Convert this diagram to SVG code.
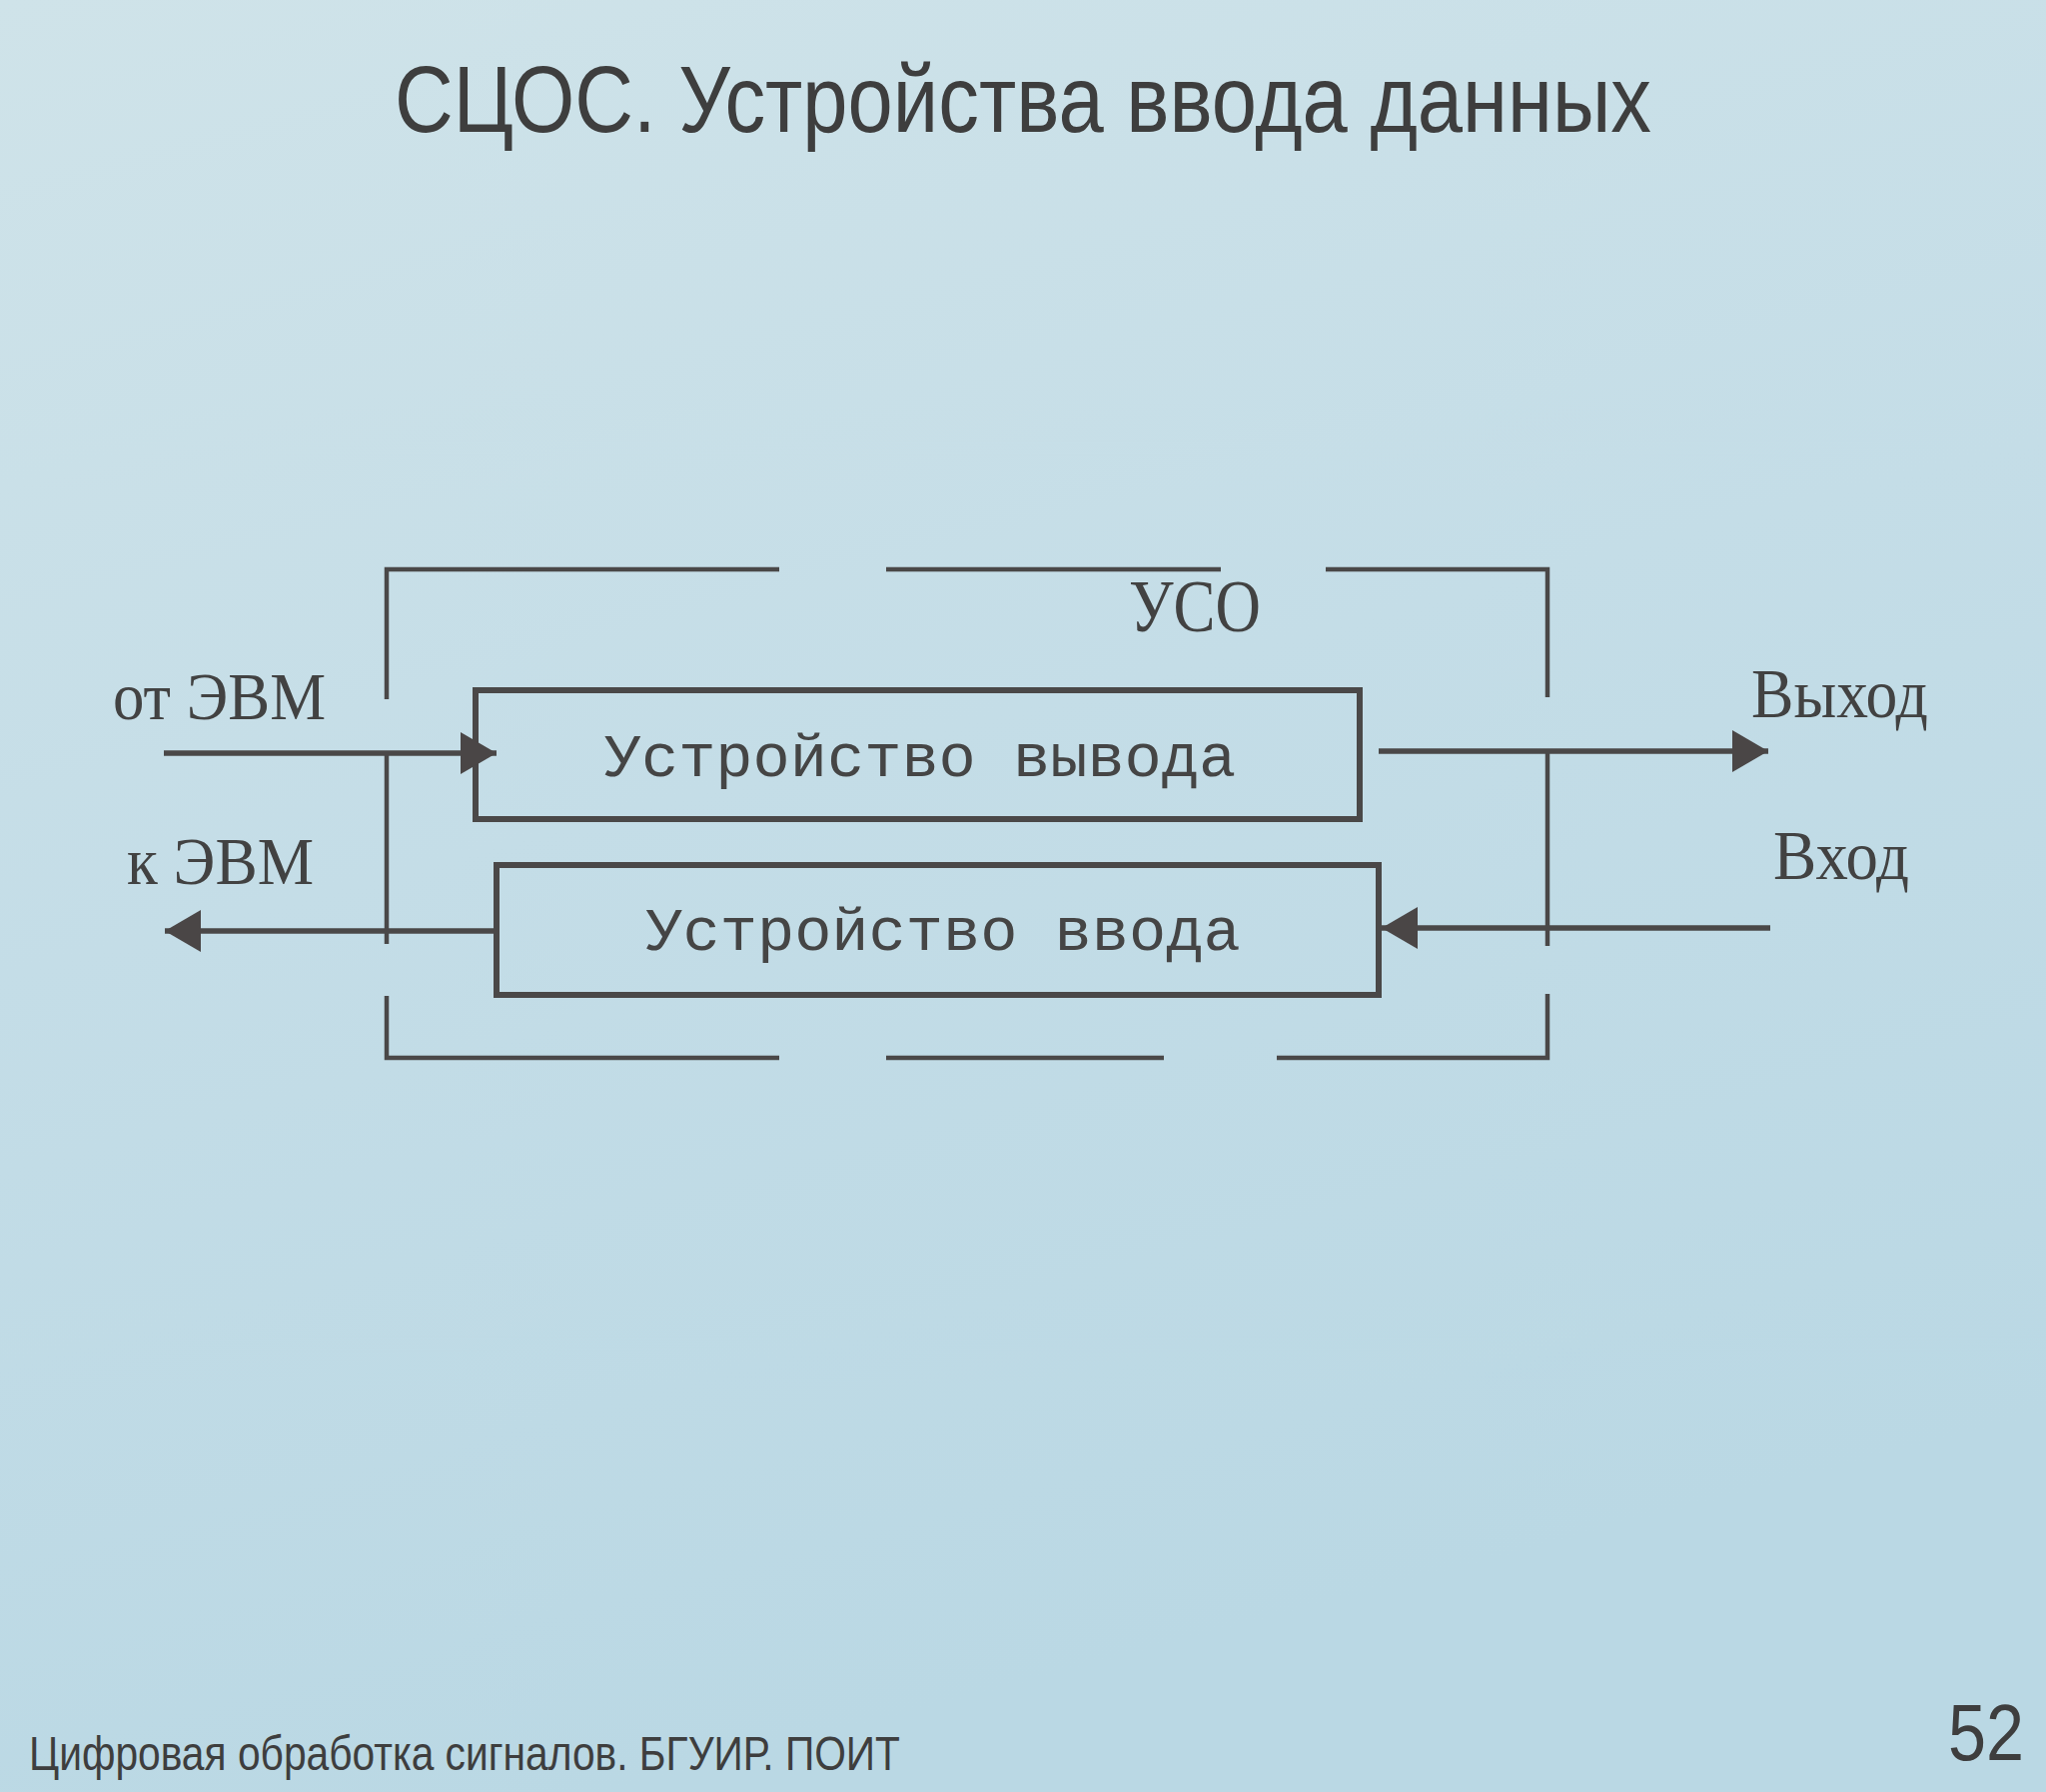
<svg xmlns="http://www.w3.org/2000/svg" width="2048" height="1794" viewBox="0 0 2048 1794">
  <defs>
    <linearGradient id="bg" x1="0" y1="0" x2="0.3" y2="1">
      <stop offset="0" stop-color="#cfe3e9"/>
      <stop offset="0.5" stop-color="#c4dde7"/>
      <stop offset="1" stop-color="#bad8e4"/>
    </linearGradient>
    <marker id="arrow" markerUnits="userSpaceOnUse" markerWidth="38" markerHeight="42" refX="36" refY="21" orient="auto">
      <path d="M0,0 L36,21 L0,42 Z" fill="#4a4646"/>
    </marker>
    <style>
      .line { fill: none; stroke: #4a4848; stroke-width: 4.5; stroke-linecap: butt; }
      .box { fill: none; stroke: #4a4848; stroke-width: 6; }
      .conn { fill: none; stroke: #4a4848; stroke-width: 5.5; marker-end: url(#arrow); }
      .mono { font-family: "Liberation Mono", "DejaVu Sans Mono", monospace; font-size: 62px; fill: #454545; }
      .serif { font-family: "Liberation Serif", "DejaVu Serif", serif; fill: #424242; }
      .sans { font-family: "Liberation Sans", Arial, sans-serif; fill: #3e3e3e; }
    </style>
  </defs>

  <rect x="0" y="0" width="2048" height="1794" fill="url(#bg)"/>

  <!-- slide title -->
  <text class="sans" x="395" y="132" font-size="94" textLength="1258" lengthAdjust="spacingAndGlyphs">СЦОС. Устройства ввода данных</text>

  <!-- УСО frame: broken outline around both devices -->
  <g id="uso">
    <path class="line" d="M780,570 H387 V700"/>
    <path class="line" d="M887,570 H1222"/>
    <path class="line" d="M1327,570 H1549 V698"/>
    <path class="line" d="M387,754 V945"/>
    <path class="line" d="M1549,752 V947"/>
    <path class="line" d="M387,997 V1059 H780"/>
    <path class="line" d="M887,1059 H1165"/>
    <path class="line" d="M1278,1059 H1549 V995"/>
    <text class="serif" x="1130" y="632" font-size="74" textLength="132" lengthAdjust="spacingAndGlyphs">УСО</text>
  </g>

  <!-- output device -->
  <g id="output-device">
    <rect class="box" x="476" y="691" width="885" height="129"/>
    <text class="mono" x="921" y="777" text-anchor="middle">Устройство вывода</text>
  </g>

  <!-- input device -->
  <g id="input-device">
    <rect class="box" x="497" y="866" width="883" height="130"/>
    <text class="mono" x="944" y="951" text-anchor="middle">Устройство ввода</text>
  </g>

  <!-- signal labels -->
  <g id="labels">
    <text class="serif" x="113" y="720" font-size="68" textLength="213" lengthAdjust="spacingAndGlyphs">от ЭВМ</text>
    <text class="serif" x="127" y="885" font-size="68" textLength="187" lengthAdjust="spacingAndGlyphs">к ЭВМ</text>
    <text class="serif" x="1753" y="718" font-size="70" textLength="177" lengthAdjust="spacingAndGlyphs">Выход</text>
    <text class="serif" x="1775" y="880" font-size="70" textLength="136" lengthAdjust="spacingAndGlyphs">Вход</text>
  </g>

  <!-- connectors -->
  <g id="connectors">
    <path class="conn" d="M164,754 H497"/>
    <path class="conn" d="M498,932 H165"/>
    <path class="conn" d="M1380,752 H1770"/>
    <path class="conn" d="M1772,929 H1383"/>
  </g>

  <!-- footer -->
  <text class="sans" x="29" y="1772" font-size="49" textLength="872" lengthAdjust="spacingAndGlyphs">Цифровая обработка сигналов. БГУИР. ПОИТ</text>
  <text class="sans" x="1950" y="1762" font-size="80" textLength="76" lengthAdjust="spacingAndGlyphs">52</text>
</svg>
